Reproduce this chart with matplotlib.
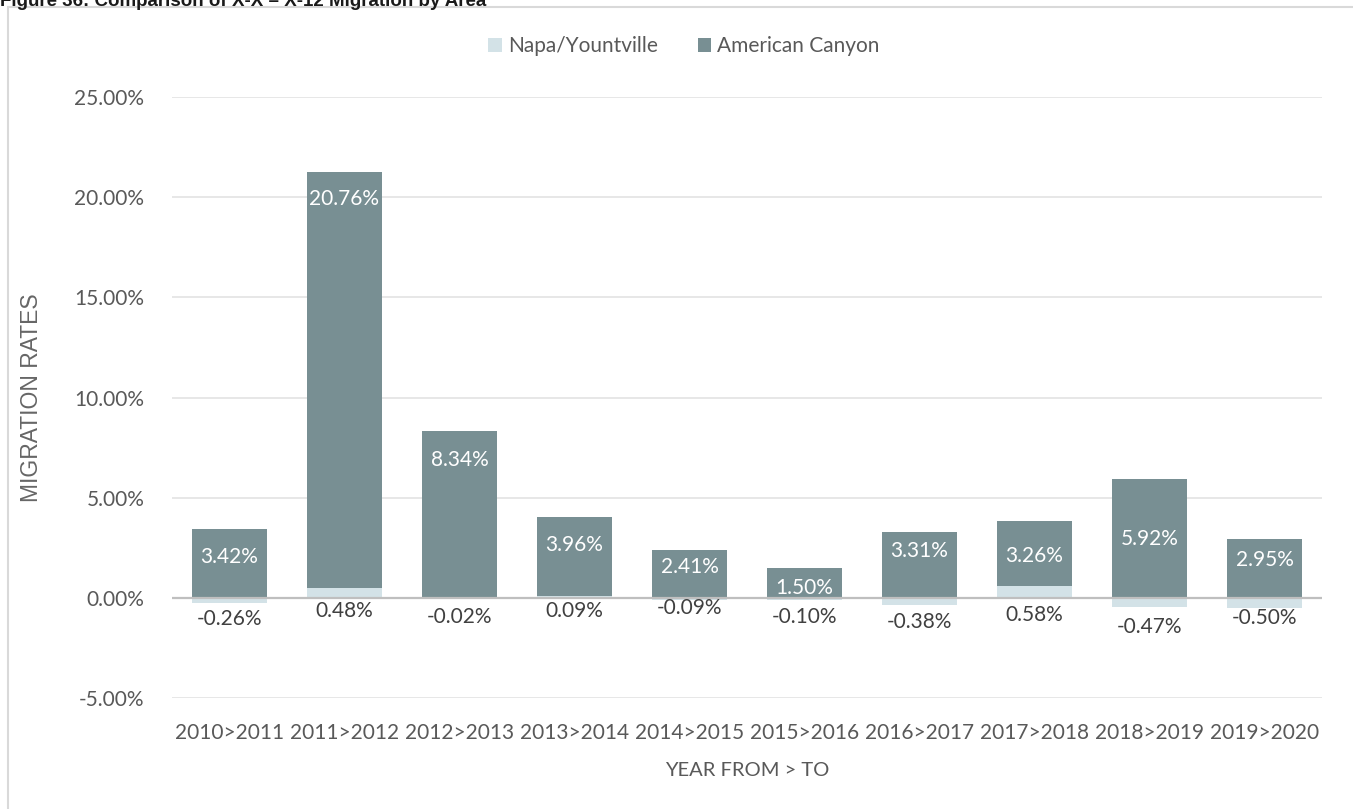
import matplotlib
matplotlib.use("Agg")
import matplotlib.pyplot as plt
from matplotlib.patches import Rectangle
import numpy as np

# Migration rates (%) by period
periods = ["2010>2011", "2011>2012", "2012>2013", "2013>2014", "2014>2015",
           "2015>2016", "2016>2017", "2017>2018", "2018>2019", "2019>2020"]
napa_yountville = [-0.26, 0.48, -0.02, 0.09, -0.09, -0.10, -0.38, 0.58, -0.47, -0.50]
american_canyon = [3.42, 20.76, 8.34, 3.96, 2.41, 1.50, 3.31, 3.26, 5.92, 2.95]

# Label placement (data units) for the value annotations
ac_label_y = [2.05, 19.9, 6.9, 2.65, 1.55, 0.5, 2.35, 2.1, 2.95, 1.9]
napa_label_y = [-1.05, -0.65, -0.95, -0.65, -0.5, -0.95, -1.2, -0.85, -1.45, -1.0]

yticks = [-5, 0, 5, 10, 15, 20, 25]

c_napa = "#d3e2e7"
c_ac = "#788f93"
c_text = "#595959"
c_label = "#404040"
font = "Lato"
fs = 15

W, H = 1353, 809
fig = plt.figure(figsize=(W / 100, H / 100), dpi=100)

# outer chart frame
fig.patches.append(Rectangle((8 / W, -0.01), 1.02, 1 - 7 / H + 0.01,
                             transform=fig.transFigure, fill=False,
                             edgecolor="#d9d9d9", linewidth=1.5))

fig.text(0.0, 1.0 - 1 / H, "Figure 36: Comparison of X-X \u2013 X-12 Migration by Area",
         ha="left", va="center", fontsize=13.5, fontweight="bold",
         family="Liberation Sans", color="#1a1a1a")

ax = fig.add_axes([172 / W, 1 - 698 / H, (1322 - 172) / W, (698 - 97) / H])

x = np.arange(len(periods))
napa = np.array(napa_yountville)
ac = np.array(american_canyon)
ac_bottom = np.clip(napa, 0, None)

bw = 0.66
ax.bar(x, napa, width=bw, color=c_napa, label="Napa/Yountville", zorder=3)
ax.bar(x, ac, width=bw, bottom=ac_bottom, color=c_ac, label="American Canyon", zorder=3)

for i in range(len(x)):
    ax.text(x[i], ac_label_y[i], f"{ac[i]:.2f}%", ha="center", va="center",
            color="white", fontsize=fs, family=font, zorder=5)
    ax.text(x[i], napa_label_y[i], f"{napa[i]:.2f}%", ha="center", va="center",
            color=c_label, fontsize=fs, family=font, zorder=5)

ax.set_xlim(-0.5, len(periods) - 0.5)
ax.set_ylim(-5, 25)
ax.set_yticks(yticks)
ax.set_yticklabels([f"{v:.2f}%" for v in yticks])
ax.set_xticks(x)
ax.set_xticklabels(periods)
ax.tick_params(axis="both", length=0, labelsize=fs, colors=c_text)
ax.tick_params(axis="y", pad=20)
ax.tick_params(axis="x", pad=18)
for lbl in ax.get_xticklabels() + ax.get_yticklabels():
    lbl.set_family(font)

ax.grid(axis="y", color="#e3e3e3", linewidth=1.2, zorder=0)
ax.axhline(0, color="#bfbfbf", linewidth=1.6, zorder=4)
for s in ax.spines.values():
    s.set_visible(False)

ax.set_xlabel("YEAR FROM > TO", fontsize=14.5, family=font, color=c_text, labelpad=14)
fig.text(32 / W, 1 - 398 / H, "MIGRATION RATES", rotation=90, ha="center", va="center",
         fontsize=16.5, family="Liberation Sans", color="#666666")

fig.legend(loc="center", bbox_to_anchor=(684 / W, 1 - 46 / H), ncol=2, frameon=False,
           prop={"family": font, "size": fs}, handlelength=0.65, handleheight=0.65,
           handletextpad=0.3, columnspacing=1.9, labelcolor=c_text)

fig.savefig("out.png", dpi=100)
